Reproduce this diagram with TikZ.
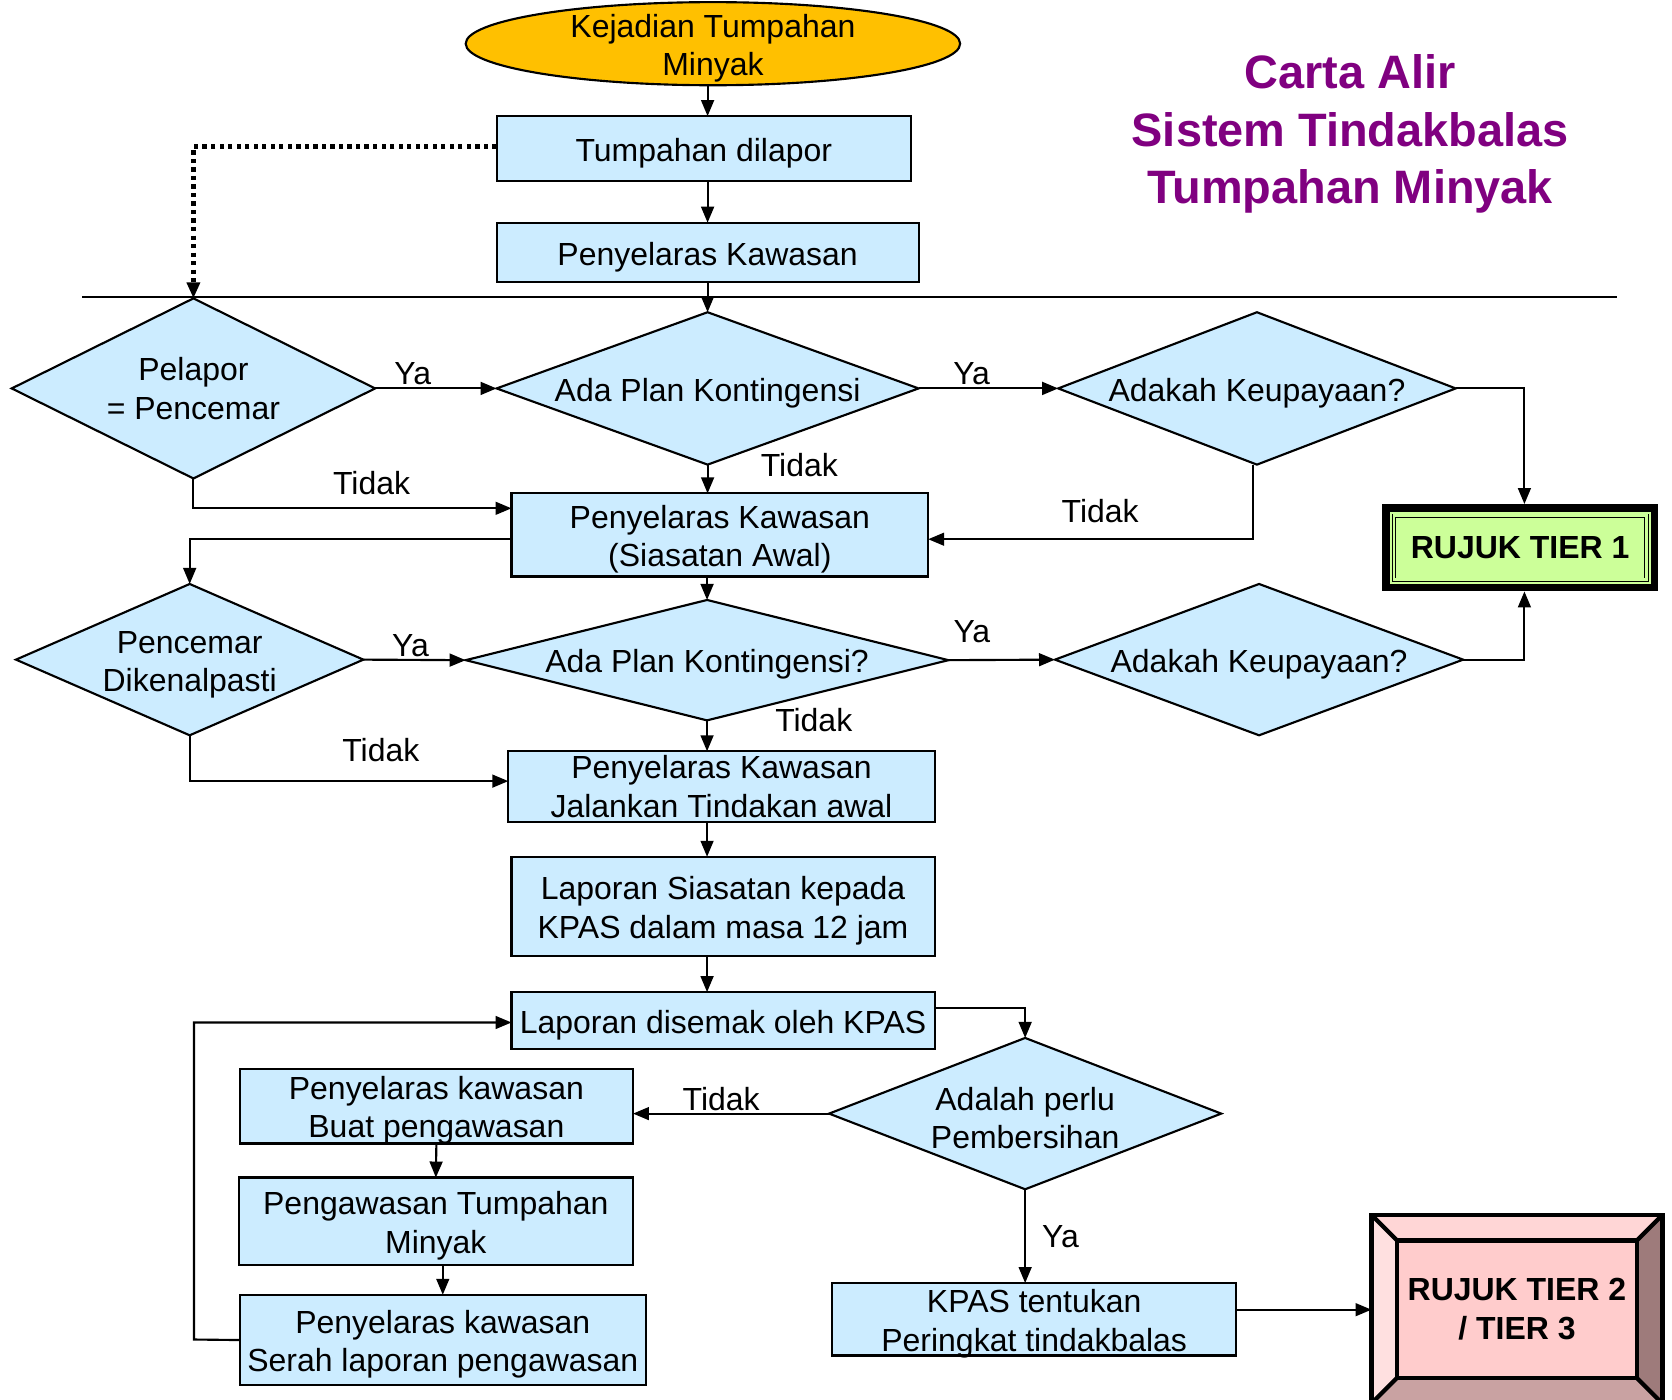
\documentclass[tikz,border=0pt]{standalone}
\usepackage{fontspec}
\setmainfont{Liberation Sans}
\usetikzlibrary{shapes.geometric,arrows.meta,positioning}
\definecolor{boxblue}{HTML}{CCECFF}
\definecolor{startgold}{HTML}{FFC000}
\definecolor{tiergreen}{HTML}{CCFF99}
\definecolor{tierpink}{HTML}{FFCCCC}
\definecolor{bevtop}{HTML}{FFD6D6}
\definecolor{bevleft}{HTML}{FFE0E0}
\definecolor{bevright}{HTML}{9E7B7B}
\definecolor{bevbottom}{HTML}{C9A2A2}
\definecolor{titlepurple}{HTML}{800080}
\newcommand{\tallrule}{\rule{0pt}{30pt}}

\begin{document}
\begin{tikzpicture}[x=1pt, y=-1pt, >={Triangle[length=15pt,width=12pt]},
  every node/.style={font=\fontsize{30}{36}\selectfont, align=center},
  box/.style={draw, line width=2pt, fill=boxblue, inner xsep=0pt, inner ysep=-4pt, outer sep=0pt},
  dia/.style={diamond, draw, line width=2pt, fill=boxblue, inner sep=-2pt, outer sep=0pt},
  lbl/.style={inner sep=2pt},
  flow/.style={->, line width=2pt}]

\useasboundingbox (0,0) rectangle (1569,1313);
\clip (0,0) rectangle (1569,1313);

\node[text=titlepurple, font=\bfseries\fontsize{44}{54}\selectfont] (title) at (1267,126) {Carta Alir\\Sistem Tindakbalas\\Tumpahan Minyak};

\node[ellipse, draw, line width=2pt, fill=startgold, minimum width=464pt, minimum height=78pt, inner xsep=0pt, inner ysep=-10pt, outer sep=0pt] (start) at (669,41) {\tallrule Kejadian Tumpahan\\Minyak};
\node[box, minimum width=389pt, minimum height=61pt] (dilapor) at (660.5,139.5) {\tallrule Tumpahan dilapor};
\node[box, minimum width=396pt, minimum height=56pt] (kawasan) at (664,237) {\tallrule Penyelaras Kawasan};

\draw[line width=2pt] (77,279) -- (1517,279);

\node[dia, aspect=2, minimum width=341pt, minimum height=169pt] (pelapor) at (181.5,364.5) {Pelapor\\= Pencemar};
\node[dia, aspect=3, minimum width=396pt, minimum height=143pt] (plana) at (664,364.5) {\tallrule Ada Plan Kontingensi};
\node[dia, aspect=2.9, minimum width=373pt, minimum height=143pt] (dayaa) at (1179.5,364.5) {\tallrule Adakah Keupayaan?};
\node[box, minimum width=391pt, minimum height=78pt] (awal) at (675.5,502) {\tallrule Penyelaras Kawasan\\(Siasatan Awal)};
\node[draw, line width=7pt, fill=tiergreen, minimum width=252pt, minimum height=75pt, font=\bfseries\fontsize{30}{36}\selectfont] (tiera) at (1426.5,514) {RUJUK TIER 1};
\draw[line width=0.8pt, double=tiergreen, double distance=2.4pt] ([shift={(11pt,-11pt)}]tiera.north west) rectangle ([shift={(-11pt,11pt)}]tiera.south east);

\node[dia, aspect=2.3, minimum width=326pt, minimum height=142pt] (cemar) at (178,619) {\tallrule Pencemar\\Dikenalpasti};
\node[dia, aspect=4.2, minimum width=453pt, minimum height=113pt] (planb) at (663.5,619.5) {\tallrule Ada Plan Kontingensi?};
\node[dia, aspect=3, minimum width=383pt, minimum height=142pt] (dayab) at (1181.5,619) {\tallrule Adakah Keupayaan?};

\node[box, minimum width=400pt, minimum height=66pt] (tindakan) at (677,738) {Penyelaras Kawasan\\Jalankan Tindakan awal};
\node[box, minimum width=397pt, minimum height=93pt] (siasatan) at (678.5,850.5) {\tallrule Laporan Siasatan kepada\\KPAS dalam masa 12 jam};
\node[box, minimum width=397pt, minimum height=53pt] (semak) at (678.5,957.5) {\tallrule Laporan disemak oleh KPAS};
\node[dia, aspect=2.6, minimum width=368pt, minimum height=142pt] (bersih) at (962,1045) {\tallrule Adalah perlu\\Pembersihan};
\node[box, minimum width=369pt, minimum height=70pt] (buat) at (409.5,1038) {\tallrule Penyelaras kawasan\\Buat pengawasan};
\node[box, minimum width=370pt, minimum height=82pt] (awasi) at (409,1146) {\tallrule Pengawasan Tumpahan\\Minyak};
\node[box, minimum width=381pt, minimum height=85pt] (serah) at (415.5,1257.5) {\tallrule Penyelaras kawasan\\Serah laporan pengawasan};
\node[box, minimum width=379pt, minimum height=68pt] (tentukan) at (970.5,1238) {\tallrule KPAS tentukan\\Peringkat tindakbalas};

% bevelled box
\node[fill=tierpink, minimum width=273pt, minimum height=177pt, inner sep=0pt, outer sep=0pt, font=\bfseries\fontsize{30}{36}\selectfont] (tierb) at (1423.5,1228.5) {RUJUK TIER 2\\/ TIER 3};
\coordinate (bnw) at ([shift={(24pt,-24pt)}]tierb.north west);
\coordinate (bne) at ([shift={(-24pt,-24pt)}]tierb.north east);
\coordinate (bse) at ([shift={(-24pt,24pt)}]tierb.south east);
\coordinate (bsw) at ([shift={(24pt,24pt)}]tierb.south west);
\fill[bevtop] (tierb.north west) -- (tierb.north east) -- (bne) -- (bnw) -- cycle;
\fill[bevright] (tierb.north east) -- (tierb.south east) -- (bse) -- (bne) -- cycle;
\fill[bevbottom] (tierb.south east) -- (tierb.south west) -- (bsw) -- (bse) -- cycle;
\fill[bevleft] (tierb.south west) -- (tierb.north west) -- (bnw) -- (bsw) -- cycle;
\draw[line width=4pt] (tierb.north west) rectangle (tierb.south east);
\draw[line width=4pt] (bnw) rectangle (bse);
\draw[line width=4pt] (tierb.north west) -- (bnw) (tierb.north east) -- (bne) (tierb.south east) -- (bse) (tierb.south west) -- (bsw);

% connectors
\draw[flow] (start.south -| kawasan) -- (dilapor.north -| kawasan);
\draw[flow] (dilapor.south -| kawasan) -- (kawasan.north);
\draw[->, line width=4.5pt, dash pattern=on 4pt off 4pt] ([yshift=2pt]dilapor.west) -| (pelapor.north);
\draw[flow] (kawasan.south) -- (plana.north);
\draw[flow] (pelapor.east) -- node[lbl, above, pos=0.31]{Ya} (plana.west);
\draw[flow] (plana.east) -- node[lbl, above, pos=0.38]{Ya} (dayaa.west);
\draw[flow] (dayaa.east) -| ([xshift=4pt]tiera.north);
\draw[flow] ([xshift=-4pt]dayaa.south) |- node[lbl, above=12pt, pos=0.735]{Tidak} ([yshift=-4pt]awal.east);
\draw[flow] (plana.south) -- node[lbl, pos=0, right=47pt]{Tidak} (plana.south |- awal.north);
\draw[flow] (pelapor.south) |- node[lbl, above=10pt, pos=0.78]{Tidak} ([yshift=25pt]awal.west);
\draw[flow] ([yshift=-4pt]awal.west) -| (cemar.north);
\draw[flow] (awal.south -| planb) -- (planb.north);
\draw[flow] (cemar.east) -- node[lbl, above, pos=0.46]{Ya} (planb.west);
\draw[flow] (planb.east) -- node[lbl, above=13pt, pos=0.22]{Ya} (dayab.west);
\draw[flow] (dayab.east) -| ([xshift=4pt]tiera.south);
\draw[flow] (planb.south) -- node[lbl, pos=0, right=61pt]{Tidak} (planb.south |- tindakan.north);
\draw[flow] (cemar.south) |- node[lbl, above=15pt, pos=0.8]{Tidak} ([yshift=5pt]tindakan.west);
\draw[flow] (tindakan.south -| planb) -- (siasatan.north -| planb);
\draw[flow] (siasatan.south -| planb) -- (semak.north -| planb);
\draw[flow] ([yshift=12pt]semak.east) -| (bersih.north);
\draw[flow] (bersih.west) -- node[lbl, above, pos=0.55]{Tidak} (bersih.west -| buat.east);
\draw[flow] (buat.south) -- (awasi.north);
\draw[flow] (serah.north |- awasi.south) -- (serah.north);
\coordinate (balik) at (182,1257);
\draw[flow] (serah.west) -- (balik) |- ([yshift=-2pt]semak.west);
\draw[flow] (bersih.south) -- node[lbl, right=13pt]{Ya} (bersih.south |- tentukan.north);
\coordinate (kpasout) at ([yshift=9pt]tentukan.east);
\draw[flow] (kpasout) -- (kpasout -| tierb.west);

\end{tikzpicture}
\end{document}
